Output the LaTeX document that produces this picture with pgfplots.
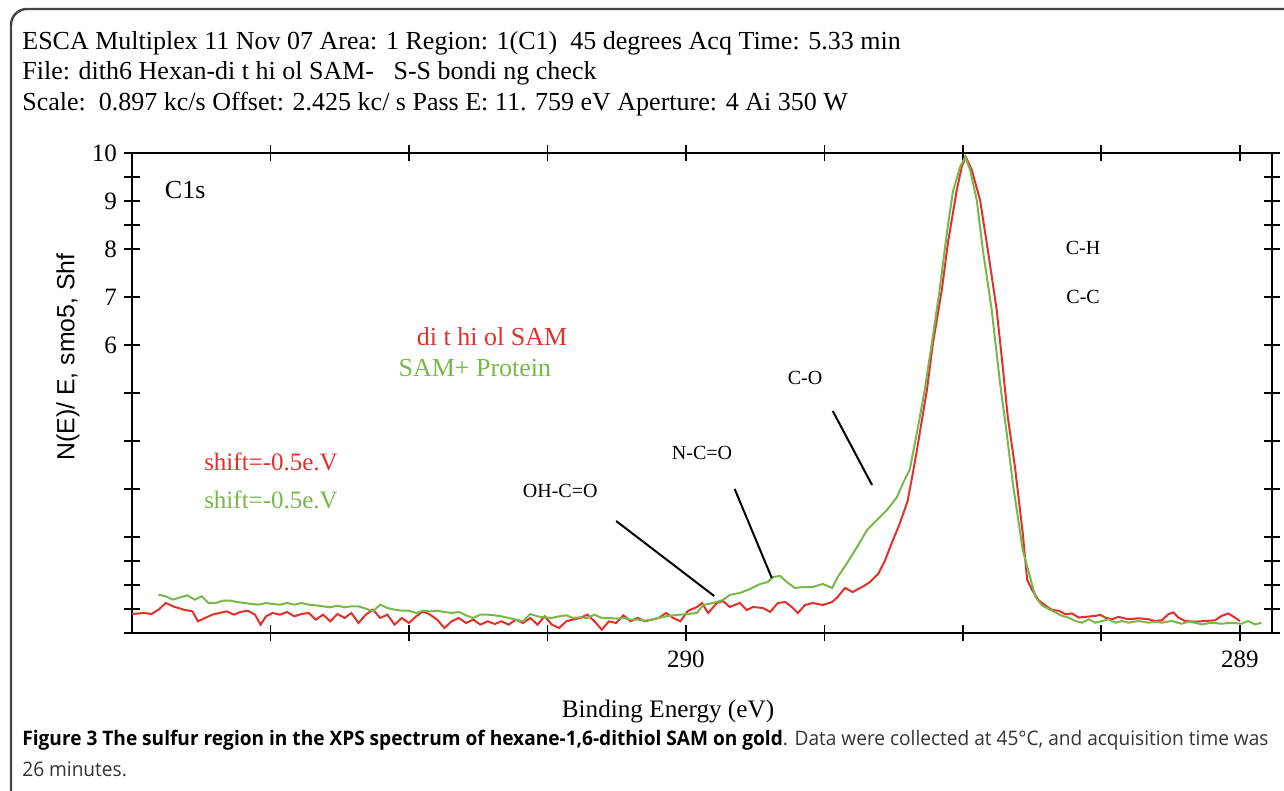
\documentclass[border=0pt]{standalone}
\usepackage{fontspec}
\setmainfont{Liberation Serif}
\newfontfamily\capfont{Open Sans}
\newfontfamily\labfont{Liberation Sans}
\usepackage{pgfplots}
\pgfplotsset{compat=1.18}
\definecolor{redc}{HTML}{E2302A}
\definecolor{greenc}{HTML}{78B84A}
\definecolor{framec}{HTML}{444444}
\definecolor{capgray}{HTML}{333333}

\begin{document}
\begin{tikzpicture}
\useasboundingbox (0,0) rectangle (642pt,395.5pt);

\begin{scope}[shift={(0pt,395.5pt)}, x=0.5pt, y=-0.5pt]
  % header lines
  \node[anchor=base west, inner sep=0, font=\fontsize{13}{15}\selectfont] at (22,50)
    {ESCA Multiplex 11 Nov 07 Area: 1 Region: 1(C1)\ \ 45 degrees Acq Time: 5.33 min};
  \node[anchor=base west, inner sep=0, font=\fontsize{13}{15}\selectfont] at (22,80)
    {File: dith6 Hexan-di t hi ol SAM-\ \ \ S-S bondi ng check};
  \node[anchor=base west, inner sep=0, font=\fontsize{13}{15}\selectfont] at (22,111)
    {Scale:\ \ 0.897 kc/s Offset: 2.425 kc/ s Pass E: 11. 759 eV Aperture: 4 Ai 350 W};
  % axis labels
  \node[rotate=90, inner sep=0, font=\labfont\fontsize{12.4}{14}\selectfont] at (68,357)
    {N(E)/ E, smo5, Shf};
  \node[anchor=base, inner sep=0, font=\fontsize{12.6}{14}\selectfont] at (668,718)
    {Binding Energy (eV)};
  % caption
  \node[anchor=base west, inner sep=0, font=\capfont\fontsize{10}{15.5}\selectfont, capgray] at (22,746)
    {\resizebox{623pt}{\height}{\begin{tabular}[t]{@{}l@{}}
      \textbf{\color{black}Figure 3 The sulfur region in the XPS spectrum of hexane-1,6-dithiol SAM on gold}. Data were collected at 45°C, and acquisition time was\\
      26 minutes.
    \end{tabular}}};
\end{scope}

\begin{axis}[
    at={(66pt,79pt)}, anchor=south west,
    scale only axis,
    width=570pt, height=240pt,
    x dir=reverse,
    xmin=288.942, xmax=291.0,
    ymin=0, ymax=10,
    enlargelimits=false,
    axis line style={line width=1pt},
    tick style={black, line width=0.9pt},
    tick align=center,
    major tick length=8pt,
    xtick pos=both, ytick pos=both,
    xticklabel pos=lower, yticklabel pos=left,
    xtick={289,289.25,289.5,289.75,290,290.25,290.5,290.75},
    xticklabels={289,,,,290,,,},
    ytick={0,0.5,1,1.5,2,3,4,5,6,7,8,8.5,9,9.5,10},
    yticklabels={,,,,,,,,6,7,8,,9,,10},
    ticklabel style={font=\fontsize{12.5}{14}\selectfont},
    xticklabel style={yshift=-1.5pt},
    /pgf/number format/assume math mode=true,
    clip=false,
]
\addplot[redc, line width=1pt] coordinates {
(291.000,0.396) (290.978,0.417) (290.965,0.396) (290.952,0.486) (290.939,0.625) (290.926,0.556) (290.907,0.486) (290.891,0.451) (290.881,0.243) (290.868,0.313) (290.855,0.382) (290.842,0.417) (290.829,0.451) (290.816,0.382) (290.804,0.438) (290.791,0.465) (290.778,0.382) (290.768,0.174) (290.758,0.347) (290.746,0.417) (290.733,0.382) (290.720,0.438) (290.707,0.347) (290.694,0.396) (290.681,0.417) (290.668,0.278) (290.655,0.382) (290.642,0.243) (290.629,0.396) (290.616,0.313) (290.604,0.417) (290.591,0.208) (290.578,0.382) (290.565,0.486) (290.552,0.313) (290.539,0.382) (290.526,0.174) (290.513,0.313) (290.500,0.208) (290.487,0.347) (290.474,0.451) (290.462,0.382) (290.449,0.278) (290.436,0.104) (290.423,0.243) (290.410,0.313) (290.397,0.208) (290.384,0.278) (290.371,0.174) (290.358,0.243) (290.345,0.188) (290.333,0.243) (290.320,0.174) (290.307,0.278) (290.294,0.208) (290.281,0.313) (290.268,0.174) (290.255,0.347) (290.242,0.174) (290.229,0.104) (290.216,0.243) (290.204,0.278) (290.191,0.313) (290.178,0.382) (290.165,0.243) (290.152,0.069) (290.139,0.243) (290.126,0.208) (290.113,0.368) (290.100,0.243) (290.087,0.313) (290.074,0.243) (290.062,0.278) (290.049,0.313) (290.036,0.417) (290.023,0.313) (290.010,0.243) (289.997,0.451)
(289.993,0.479) (289.980,0.542) (289.971,0.625) (289.960,0.417) (289.944,0.625) (289.933,0.667) (289.921,0.542) (289.903,0.625) (289.890,0.479) (289.879,0.542) (289.861,0.521) (289.848,0.438) (289.834,0.625) (289.821,0.646) (289.809,0.542) (289.798,0.417) (289.785,0.583) (289.771,0.625) (289.753,0.583) (289.736,0.646) (289.726,0.750) (289.713,0.938) (289.699,0.854) (289.682,0.958) (289.668,1.06) (289.653,1.23) (289.641,1.50) (289.630,1.83) (289.614,2.28) (289.600,2.74) (289.591,3.29) (289.583,3.81) (289.565,5.06) (289.554,6.04) (289.538,7.15) (289.527,8.13) (289.511,9.23) (289.502,9.71) (289.495,9.92) (289.484,9.65) (289.469,9.02) (289.455,7.98) (289.439,6.73) (289.428,5.54) (289.419,4.50) (289.406,3.46) (289.392,2.08) (289.384,1.11) (289.375,0.893) (289.363,0.679) (289.351,0.571) (289.339,0.479) (289.327,0.464) (289.315,0.393) (289.303,0.407) (289.291,0.321) (289.279,0.336) (289.261,0.357) (289.252,0.379) (289.243,0.321) (289.231,0.286) (289.219,0.336) (289.201,0.286) (289.183,0.307) (289.165,0.286) (289.153,0.25) (289.141,0.264) (289.129,0.393) (289.120,0.429) (289.111,0.321) (289.099,0.25) (289.081,0.236) (289.063,0.25) (289.045,0.264) (289.033,0.357) (289.021,0.407) (289.009,0.321) (289.000,0.25)
};
\addplot[greenc, line width=1pt] coordinates {
(290.952,0.799) (290.939,0.764) (290.926,0.694) (290.913,0.743) (290.900,0.785) (290.887,0.694) (290.874,0.764) (290.862,0.625) (290.849,0.625) (290.836,0.674) (290.823,0.674) (290.810,0.646) (290.797,0.625) (290.784,0.604) (290.771,0.590) (290.758,0.625) (290.746,0.604) (290.733,0.590) (290.720,0.625) (290.707,0.590) (290.694,0.625) (290.681,0.590) (290.668,0.576) (290.655,0.556) (290.642,0.535) (290.629,0.569) (290.616,0.535) (290.604,0.556) (290.591,0.556) (290.578,0.507) (290.565,0.451) (290.552,0.590) (290.539,0.521) (290.526,0.486) (290.513,0.465) (290.500,0.465) (290.487,0.417) (290.474,0.465) (290.462,0.451) (290.449,0.465) (290.436,0.438) (290.423,0.417) (290.410,0.438) (290.397,0.368) (290.384,0.313) (290.371,0.382) (290.358,0.382) (290.345,0.368) (290.333,0.347) (290.320,0.313) (290.307,0.278) (290.294,0.243) (290.281,0.396) (290.268,0.347) (290.255,0.326) (290.242,0.313) (290.229,0.347) (290.216,0.368) (290.204,0.313) (290.191,0.326) (290.178,0.313) (290.165,0.382) (290.152,0.313) (290.139,0.313) (290.126,0.299) (290.113,0.313) (290.100,0.278) (290.087,0.278) (290.074,0.257) (290.062,0.278) (290.049,0.313) (290.036,0.347) (290.023,0.368) (290.010,0.382) (289.997,0.396)
(289.980,0.417) (289.969,0.583) (289.951,0.625) (289.933,0.688) (289.921,0.792) (289.903,0.833) (289.884,0.917) (289.866,1.021) (289.852,1.063) (289.843,1.167) (289.830,1.188) (289.818,1.063) (289.803,0.938) (289.789,0.958) (289.771,0.958) (289.753,1.021) (289.736,0.938) (289.726,1.167) (289.709,1.458) (289.691,1.792) (289.673,2.146) (289.655,2.354) (289.637,2.563) (289.619,2.833) (289.608,3.125) (289.596,3.40) (289.583,4.17) (289.569,5.06) (289.556,6.04) (289.542,7.15) (289.529,8.33) (289.518,9.20) (289.505,9.71) (289.496,9.92) (289.487,9.65) (289.475,9.02) (289.464,7.98) (289.448,6.73) (289.433,5.21) (289.421,4.17) (289.410,3.13) (289.392,1.73) (289.374,0.958) (289.369,0.75) (289.357,0.571) (289.345,0.5) (289.333,0.429) (289.321,0.357) (289.309,0.321) (289.297,0.25) (289.285,0.214) (289.273,0.286) (289.261,0.214) (289.249,0.25) (289.237,0.286) (289.225,0.214) (289.213,0.25) (289.201,0.214) (289.183,0.25) (289.165,0.214) (289.153,0.236) (289.141,0.214) (289.123,0.25) (289.105,0.193) (289.093,0.236) (289.081,0.214) (289.069,0.179) (289.051,0.214) (289.033,0.193) (289.015,0.214) (288.997,0.193) (288.985,0.25) (288.973,0.179) (288.961,0.214)
};
% annotations
\node[font=\fontsize{13}{15}\selectfont] at (axis cs:290.904,9.23) {C1s};
\node[font=\fontsize{10}{12}\selectfont] at (axis cs:289.283,8.02) {C-H};
\node[font=\fontsize{10}{12}\selectfont] at (axis cs:289.283,7.0) {C-C};
\node[redc, font=\fontsize{13}{15}\selectfont] at (axis cs:290.350,6.17) {di\ t hi ol\ SAM};
\node[greenc, font=\fontsize{13}{15}\selectfont] at (axis cs:290.381,5.52) {SAM+ Protein};
\node[redc, font=\fontsize{12.5}{15}\selectfont] at (axis cs:290.749,3.56) {shift=-0.5e.V};
\node[greenc, font=\fontsize{12.5}{15}\selectfont] at (axis cs:290.749,2.77) {shift=-0.5e.V};
\node[font=\fontsize{10}{12}\selectfont] at (axis cs:290.227,2.96) {OH-C=O};
\node[font=\fontsize{10}{12}\selectfont] at (axis cs:289.971,3.75) {N-C=O};
\node[font=\fontsize{10}{12}\selectfont] at (axis cs:289.785,5.31) {C-O};
\draw[line width=1pt] (axis cs:290.126,2.333) -- (axis cs:289.949,0.771);
\draw[line width=1pt] (axis cs:289.912,3.0) -- (axis cs:289.845,1.146);
\draw[line width=1pt] (axis cs:289.735,4.625) -- (axis cs:289.664,3.083);
\end{axis}

% figure frame, top-left part, kept inside the page
\draw[framec, line width=1.2pt]
  (5.5pt,0pt) -- (5.5pt,383pt) arc[start angle=180, end angle=90, radius=8pt] -- (642pt,391pt);
\end{tikzpicture}
\end{document}
